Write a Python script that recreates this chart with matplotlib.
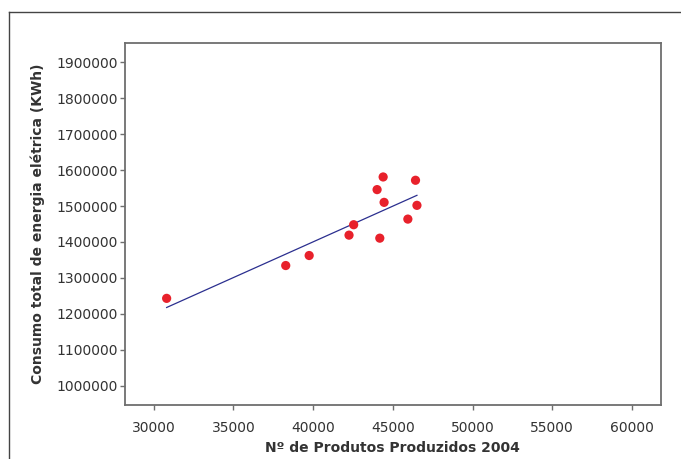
import matplotlib.pyplot as plt
import numpy as np
from matplotlib.lines import Line2D

# products made in 2004 vs total electricity use (kWh)
produtos = [30810, 38280, 39750, 42250, 42540, 44010, 44390, 44450,
            44180, 45940, 46420, 46510]
consumo = [1243000, 1334400, 1362300, 1419000, 1448000, 1545800, 1581000,
           1510300, 1410600, 1463700, 1571800, 1502000]

xticks = [30000, 35000, 40000, 45000, 50000, 55000, 60000]
yticks = [1000000, 1100000, 1200000, 1300000, 1400000, 1500000,
          1600000, 1700000, 1800000, 1900000]

txt = '#333333'
axcol = '#6e6e6e'

fig = plt.figure(figsize=(6.81, 4.59), dpi=100)
ax = fig.add_axes([0.1836, 0.1176, 0.7866, 0.7887])

# least squares line over the data range
x = np.array(produtos, dtype=float)
y = np.array(consumo, dtype=float)
b, a = np.polyfit(x, y, 1)
xs = np.array([x.min(), x.max()])
ax.plot(xs, a + b * xs, color='#2b2f8f', lw=0.9, zorder=2)

ax.scatter(produtos, consumo, s=44, color='#e8212b', edgecolors='none', zorder=3)

ax.set_xlim(28200, 61800)
ax.set_ylim(946000, 1954000)
ax.set_xticks(xticks)
ax.set_yticks(yticks)
ax.set_xticklabels([str(v) for v in xticks])
ax.set_yticklabels([str(v) for v in yticks])

for s in ax.spines.values():
    s.set_color(axcol)
    s.set_linewidth(1.3)
ax.tick_params(direction='out', length=3.5, width=1, color=axcol,
               labelcolor=txt, labelsize=10)
ax.tick_params(axis='x', pad=8)
ax.tick_params(axis='y', pad=1.5)

ax.set_xlabel('Nº de Produtos Produzidos 2004', fontsize=10, fontweight='bold',
              color=txt, labelpad=4)
ax.set_ylabel('Consumo total de energia elétrica (KWh)', fontsize=10,
              fontweight='bold', color=txt, labelpad=8)

# outer frame, open at right and bottom
fig.add_artist(Line2D([8.7 / 681, 8.7 / 681], [0, 1 - 11.7 / 459],
                      transform=fig.transFigure, color='#444444', lw=1.0))
fig.add_artist(Line2D([8.7 / 681, 1], [1 - 11.7 / 459, 1 - 11.7 / 459],
                      transform=fig.transFigure, color='#444444', lw=1.0))

fig.savefig('out.png', dpi=100)
